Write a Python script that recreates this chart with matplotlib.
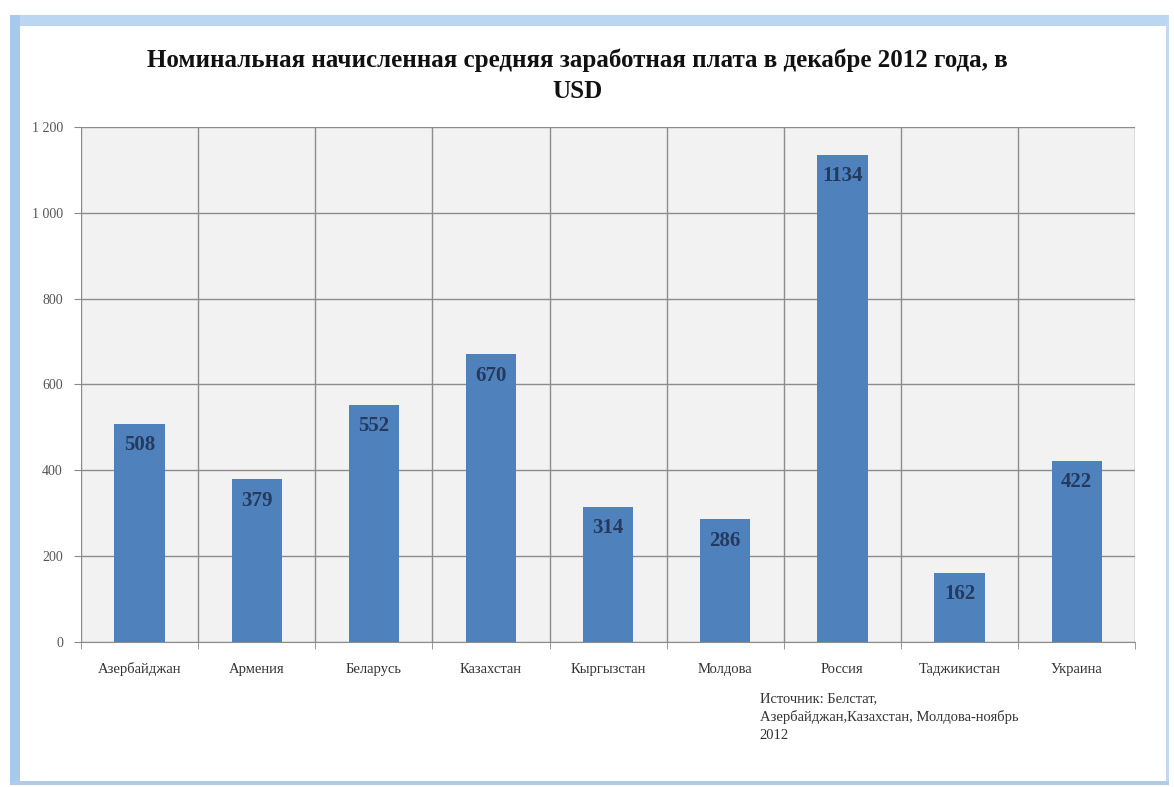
import matplotlib.pyplot as plt
from matplotlib.patches import Rectangle
import numpy as np

countries = ["Азербайджан", "Армения", "Беларусь", "Казахстан", "Кыргызстан",
             "Молдова", "Россия", "Таджикистан", "Украина"]
wages = [508, 379, 552, 670, 314, 286, 1134, 162, 422]
yticks = [0, 200, 400, 600, 800, 1000, 1200]
ytick_labels = ["0", "200", "400", "600", "800", "1 000", "1 200"]

plt.rcParams['font.family'] = ['Liberation Serif', 'DejaVu Serif']

W, H = 1174, 787
fig = plt.figure(figsize=(W / 100, H / 100), dpi=100)


def frame_box(x0, y0, x1, y1, color):
    # pixel box (top-left origin) -> figure fraction rectangle
    fig.patches.append(Rectangle((x0 / W, 1 - y1 / H), (x1 - x0) / W, (y1 - y0) / H,
                                 transform=fig.transFigure, facecolor=color,
                                 edgecolor="none", zorder=0))


# blue frame: thick on left/top, thin on right/bottom
frame_box(10, 15, 1169, 26, "#bcd5f0")
frame_box(10, 15, 20, 785, "#a8c8ec")
frame_box(1166, 15, 1169, 785, "#c3d8ef")
frame_box(10, 781, 1169, 785, "#b0cbe9")

ax = fig.add_axes([0.069, 0.184, 0.898, 0.655])
ax.set_facecolor("#f2f2f2")

x = np.arange(len(countries))
ax.bar(x, wages, width=0.43, color="#4f81bd", zorder=3)
for xi, v in zip(x, wages):
    ax.text(xi, v - 26, str(v), ha="center", va="top", fontsize=15,
            fontweight="bold", color="#243a5e", zorder=4)

ax.set_xlim(-0.5, len(countries) - 0.5)
ax.set_ylim(0, 1200)
ax.set_yticks(yticks)
ax.set_yticklabels(ytick_labels, fontsize=10, color="#555555")
ax.set_xticks(x)
ax.set_xticklabels(countries, fontsize=10.5, color="#333333", va="baseline")
ax.tick_params(axis="x", length=0, pad=22)
ax.tick_params(axis="y", length=5, color="#888888", pad=8)

ax.set_xticks(np.arange(-0.5, len(countries), 1), minor=True)
ax.tick_params(axis="x", which="minor", length=5, color="#888888")
ax.grid(axis="y", color="#8c8c8c", linewidth=1, zorder=1)
ax.grid(axis="x", which="minor", color="#8c8c8c", linewidth=1, zorder=1)

for s in ["top", "right", "left"]:
    ax.spines[s].set_visible(False)
ax.spines["bottom"].set_color("#8c8c8c")

fig.text(0.4915, 0.904, "Номинальная начисленная средняя заработная плата в декабре 2012 года, в\nUSD",
         ha="center", va="center", fontsize=18, fontweight="bold", color="#111111",
         linespacing=1.45)

fig.text(0.647, 0.121, "Источник: Белстат,\nАзербайджан,Казахстан, Молдова-ноябрь\n2012",
         ha="left", va="top", fontsize=10.5, color="#333333", linespacing=1.5)

fig.savefig("out.png", dpi=100, facecolor="white")
